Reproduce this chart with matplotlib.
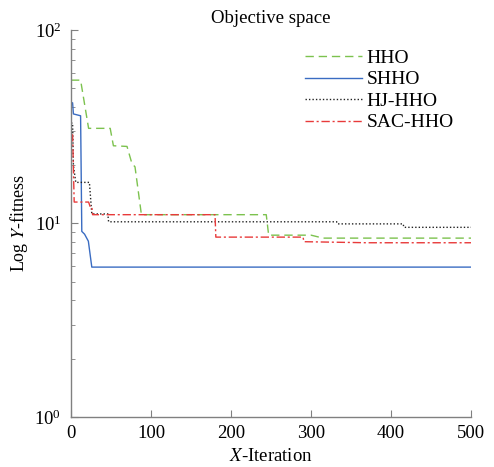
import matplotlib
matplotlib.use("Agg")
import matplotlib.pyplot as plt
from matplotlib.ticker import LogLocator, NullFormatter

plt.rcParams['font.family'] = ['Liberation Serif', 'DejaVu Serif']
plt.rcParams['mathtext.fontset'] = 'stix'

hho_x = [0, 12, 22, 49, 53, 70, 76, 80, 88, 244, 247, 300, 315, 500]
hho_y = [55, 55, 31, 31, 25.2, 25, 20.5, 19.6, 11.1, 11.1, 8.7, 8.7, 8.4, 8.4]

shho_x = [0, 2, 3, 12, 13.5, 17, 21.7, 26, 500]
shho_y = [42, 42, 36.8, 36, 9.1, 8.8, 8.1, 5.95, 5.95]

hj_x = [0, 2, 3, 6, 23, 26, 46, 47, 332, 333, 415, 416, 500]
hj_y = [33, 33, 20, 16.3, 16.3, 11.2, 11.2, 10.2, 10.2, 9.95, 9.95, 9.55, 9.55]

sac_x = [0, 2, 4, 22, 24, 26, 27, 180, 181, 290, 291, 370, 500]
sac_y = [28.7, 28.7, 12.9, 12.9, 12.2, 12.2, 11.1, 11.1, 8.5, 8.5, 8.05, 7.95, 7.95]

fig = plt.figure(figsize=(4.94, 4.67), dpi=100)
ax = fig.add_axes([0.1437, 0.107, 0.81, 0.829])

ax.plot(hho_x, hho_y, color='#7cc24e', linestyle=(0, (6, 3.5)), lw=1.0, label='HHO')
ax.plot(shho_x, shho_y, color='#3a6cc2', linestyle='-', lw=1.0, label='SHHO')
ax.plot(hj_x, hj_y, color='#222222', linestyle=(0, (1, 1.5)), lw=1.0, label='HJ-HHO')
ax.plot(sac_x, sac_y, color='#e83a3a', linestyle=(0, (6, 2, 1.5, 2)), lw=1.0, label='SAC-HHO')

ax.set_yscale('log')
ax.set_xlim(0, 500)
ax.set_ylim(1, 100)
ax.set_xticks([0, 100, 200, 300, 400, 500])
ax.yaxis.set_minor_locator(LogLocator(base=10, subs=range(2, 10)))
ax.yaxis.set_minor_formatter(NullFormatter())

for s in ['top', 'right']:
    ax.spines[s].set_visible(False)
for s in ['left', 'bottom']:
    ax.spines[s].set_color('#808080')
    ax.spines[s].set_linewidth(1.0)

ax.tick_params(axis='both', which='both', direction='in', color='#808080', labelsize=13.5)
ax.tick_params(axis='both', which='major', length=5)
ax.tick_params(axis='y', which='minor', length=3)
ax.tick_params(axis='y', which='both', pad=7)
ax.tick_params(axis='x', which='major', pad=6)

ax.set_title('Objective space', fontsize=13.5, pad=5)
ax.set_xlabel(r'$\mathit{X}$-Iteration', fontsize=13.5, labelpad=4)
ax.set_ylabel(r'Log $\mathit{Y}$-fitness', fontsize=13, labelpad=3)

ax.legend(loc='upper right', bbox_to_anchor=(1.0, 0.995), frameon=False, fontsize=14,
          handlelength=2.9, handletextpad=0.25, labelspacing=0.2)

fig.savefig('out.png', dpi=100)
